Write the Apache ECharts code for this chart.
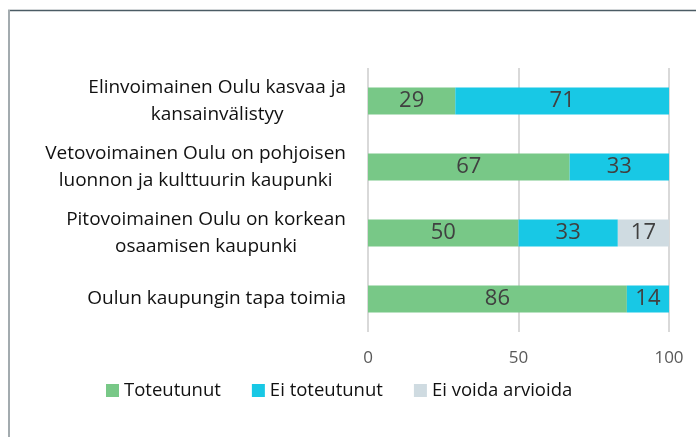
<!DOCTYPE html>
<html>
<head>
<meta charset="utf-8">
<script src="https://cdn.jsdelivr.net/npm/echarts@6/dist/echarts.min.js"></script>
<style>
  html, body { margin: 0; padding: 0; background: #fff; }
  #chart { width: 696px; height: 437px; }
</style>
</head>
<body>
<div id="chart"></div>
<script>
var categories = [
    'Elinvoimainen Oulu kasvaa ja\nkansainvälistyy',
    'Vetovoimainen Oulu on pohjoisen\nluonnon ja kulttuurin kaupunki',
    'Pitovoimainen Oulu on korkean\nosaamisen kaupunki',
    'Oulun kaupungin tapa toimia'
];
var seriesNames = ['Toteutunut', 'Ei toteutunut', 'Ei voida arvioida'];
var toteutunut = [29, 67, 50, 86];
var eiToteutunut = [71, 33, 33, 14];
var eiVoida = [0, 0, 17, 0];
var colors = ['#78c887', '#18c8e5', '#cfdbe1'];

var fontFam = '"Open Sans", "Noto Sans", sans-serif';

function barSeries(name, data) {
    return {
        name: name,
        type: 'bar',
        stack: 'total',
        data: data,
        barWidth: 27,
        label: {
            show: true,
            position: 'inside',
            color: '#404040',
            fontSize: 22,
            fontFamily: fontFam,
            formatter: function (p) { return p.value ? p.value : ''; }
        }
    };
}

var myChart = echarts.init(document.getElementById('chart'));

var option = {
    animation: false,
    color: colors,
    textStyle: { fontFamily: fontFam },
    grid: {
        left: 368,
        right: 27,
        top: 68,
        bottom: 105
    },
    legend: {
        data: seriesNames,
        left: 101,
        top: 376,
        icon: 'rect',
        itemWidth: 13,
        itemHeight: 13,
        itemGap: 31,
        textStyle: { fontSize: 18.5, color: '#111', fontFamily: fontFam }
    },
    xAxis: {
        type: 'value',
        min: 0,
        max: 100,
        interval: 50,
        axisLine: { show: false },
        axisTick: { show: false },
        splitLine: { lineStyle: { color: '#d9d9d9', width: 2 } },
        axisLabel: { color: '#595959', fontSize: 17, margin: 18 }
    },
    yAxis: {
        type: 'category',
        inverse: true,
        data: categories,
        axisLine: { show: false },
        axisTick: { show: false },
        axisLabel: {
            margin: 22,
            formatter: function (v) { return '{a|' + v + '}'; },
            rich: {
                a: { align: 'center', fontSize: 19, color: '#111', lineHeight: 27, fontFamily: fontFam }
            }
        }
    },
    graphic: [
        { type: 'line', shape: { x1: 8, y1: 10.5, x2: 696, y2: 10.5 }, style: { stroke: '#4b5b64', lineWidth: 1.5 } },
        { type: 'line', shape: { x1: 9, y1: 10, x2: 9, y2: 437 }, style: { stroke: '#a3abaf', lineWidth: 2 } }
    ],
    series: [
        barSeries(seriesNames[0], toteutunut),
        barSeries(seriesNames[1], eiToteutunut),
        barSeries(seriesNames[2], eiVoida)
    ]
};

myChart.setOption(option);
</script>
</body>
</html>
